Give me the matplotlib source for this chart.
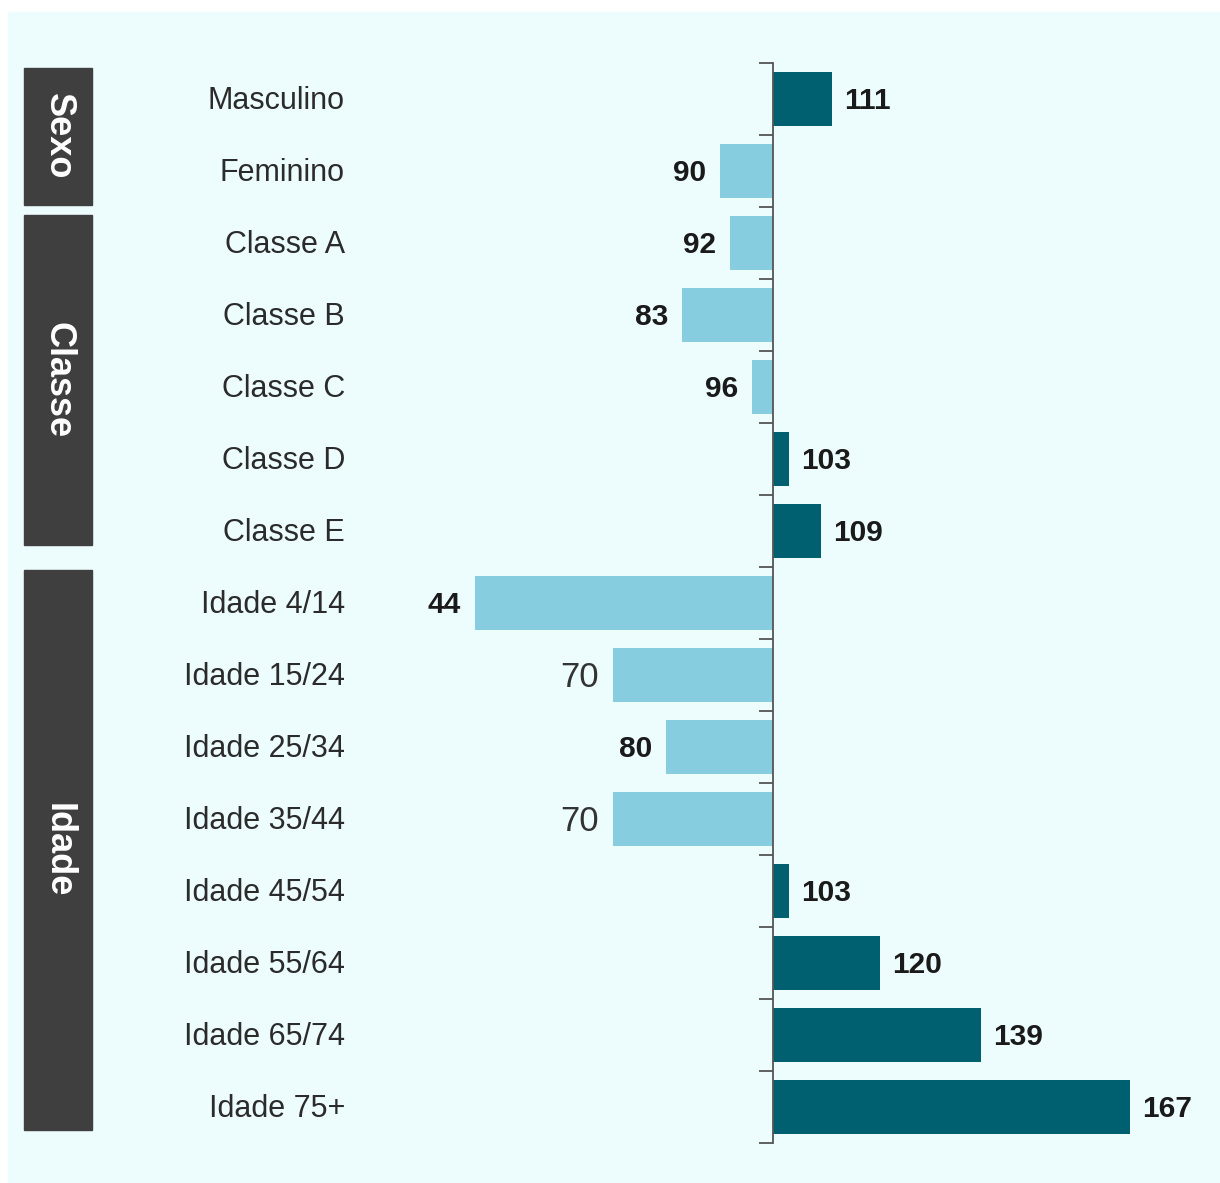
import matplotlib.pyplot as plt
from matplotlib.patches import Rectangle
import matplotlib.transforms as mtransforms

# index values (base 100)
categories = ['Masculino', 'Feminino',
              'Classe A', 'Classe B', 'Classe C', 'Classe D', 'Classe E',
              'Idade 4/14', 'Idade 15/24', 'Idade 25/34', 'Idade 35/44',
              'Idade 45/54', 'Idade 55/64', 'Idade 65/74', 'Idade 75+']
values = [111, 90, 92, 83, 96, 103, 109, 44, 70, 80, 70, 103, 120, 139, 167]
bold_label = [True, True, True, True, True, True, True, True,
              False, True, False, True, True, True, True]

groups = ['Sexo', 'Classe', 'Idade']
group_first = [0, 2, 7]
group_last = [1, 6, 14]

BASE = 100
DARK = '#00606f'
LIGHT = '#86cde0'
PANEL = '#edfcfd'

W, H = 1220, 1183
fig = plt.figure(figsize=(W / 100, H / 100), dpi=100, facecolor='white')
fig.patches.append(Rectangle((8 / W, 0), 1 - 8 / W, 1 - 12 / H,
                             transform=fig.transFigure, color=PANEL, zorder=-10))

ax = fig.add_axes([400 / W, 40 / H, 810 / W, 1080 / H])
ax.set_facecolor('none')
ax.set_zorder(1)

n = len(categories)
ypos = list(range(n))
colors = [DARK if v >= BASE else LIGHT for v in values]
ax.barh(ypos, [v - BASE for v in values], left=BASE, height=0.74,
        color=colors, zorder=2)

ax.set_xlim(30, 182)
ax.set_ylim(n - 0.5, -0.5)

for s in ['top', 'right', 'bottom']:
    ax.spines[s].set_visible(False)
ax.spines['left'].set_position(('data', BASE))
ax.spines['left'].set_color('#555555')
ax.spines['left'].set_linewidth(1.3)
ax.set_xticks([])
ax.set_yticks([i - 0.5 for i in range(n + 1)])
ax.set_yticklabels([])
ax.tick_params(axis='y', length=10, width=1.3, color='#555555')

# value labels
for y, v, b in zip(ypos, values, bold_label):
    if v >= BASE:
        x, ha, off = v, 'left', 2.3
    else:
        x, ha, off = v, 'right', -2.6
    if b:
        ax.text(x + off, y + 0.03, str(v), ha=ha, va='center', fontsize=21.5,
                fontweight='bold', color='#1a1a1a', family='Liberation Sans')
    else:
        ax.text(x + off, y + 0.03, str(v), ha=ha, va='center', fontsize=25,
                color='#333333', family='Liberation Sans')

# category labels
tr = mtransforms.blended_transform_factory(fig.transFigure, ax.transData)
for y, c in zip(ypos, categories):
    ax.text(345 / W, y + 0.03, c, transform=tr, ha='right', va='center',
            fontsize=22, color='#2b2b2b', family='Liberation Sans')

# group boxes
box_margin_top = [0.07, 0.11, 0.04]
box_margin_bot = [0.03, 0.31, 0.18]
for g, a, b, mt, mb in zip(groups, group_first, group_last,
                           box_margin_top, box_margin_bot):
    y0 = a - 0.5 + mt
    y1 = b + 0.5 - mb
    ax.add_patch(Rectangle((24 / W, y0), 68 / W, y1 - y0, transform=tr,
                           color='#3f3f3f', clip_on=False, zorder=3))
    ax.text(58 / W, (y0 + y1) / 2, g, transform=tr, rotation=270,
            ha='center', va='center', fontsize=26, fontweight='bold',
            color='white', family='Liberation Sans', zorder=4)

fig.savefig('out.png', dpi=100, facecolor=fig.get_facecolor())
